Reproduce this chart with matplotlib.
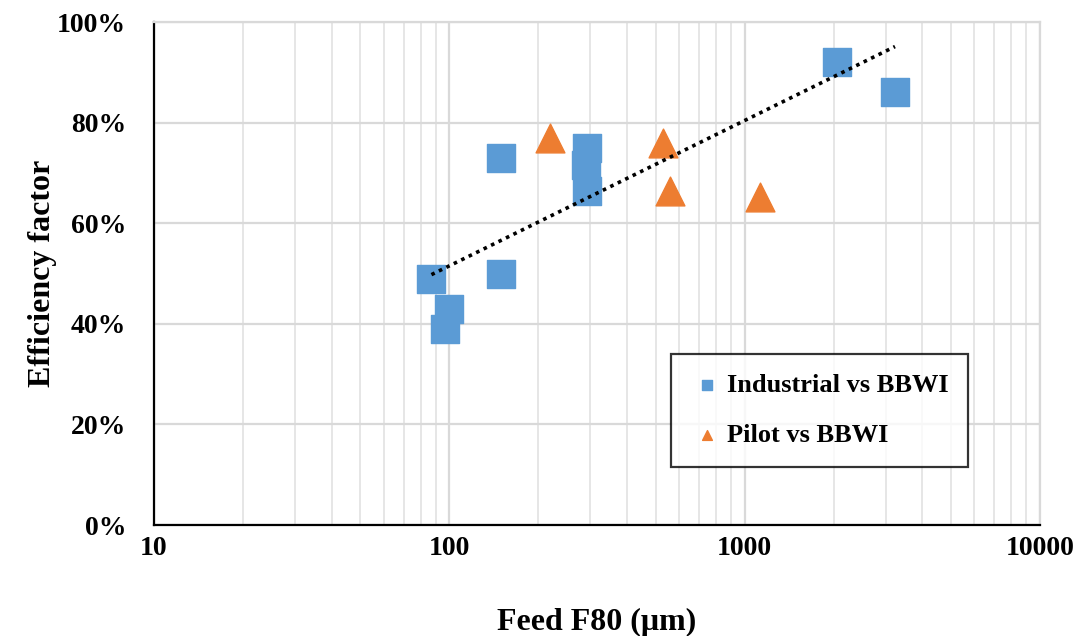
import numpy as np
import matplotlib
matplotlib.use("Agg")
import matplotlib.pyplot as plt
from matplotlib.ticker import FuncFormatter, FixedLocator, LogLocator, NullFormatter

plt.rcParams['font.family'] = ['Liberation Serif', 'DejaVu Serif']
plt.rcParams['font.weight'] = 'bold'

# Industrial vs BBWI
ind_f80 = [87, 100, 97, 150, 150, 292, 290, 292, 2050, 3230]
ind_eff = [0.49, 0.43, 0.39, 0.73, 0.50, 0.75, 0.715, 0.665, 0.92, 0.86]
# Pilot vs BBWI
pil_f80 = [219, 530, 559, 1127]
pil_eff = [0.77, 0.76, 0.665, 0.652]

blue = '#5B9BD5'
orange = '#ED7D31'

fig = plt.figure(figsize=(10.79, 6.36), dpi=100)
ax = fig.add_axes([0.1427, 0.1745, 0.8211, 0.7909])

ax.set_xscale('log')
ax.set_xlim(10, 10000)
ax.set_ylim(0, 1)

ax.grid(True, which='major', color='#d9d9d9', lw=1.6)
ax.grid(True, which='minor', axis='x', color='#e6e6e6', lw=1.4)
ax.set_axisbelow(True)

ax.scatter(ind_f80, ind_eff, marker='s', s=430, color=blue, label='Industrial vs BBWI', zorder=3)
ax.scatter(pil_f80, pil_eff, marker='^', s=430, color=orange, label='Pilot vs BBWI', zorder=3)

# logarithmic trend line fitted on industrial data
lx = np.log10(ind_f80)
k, b = np.polyfit(lx, ind_eff, 1)
xs = np.logspace(lx.min(), lx.max(), 100)
ax.plot(xs, k * np.log10(xs) + b, color='black', ls=(0, (1, 1.3)), lw=2.6, zorder=4)

ax.yaxis.set_major_locator(FixedLocator(np.arange(0, 1.01, 0.2)))
ax.yaxis.set_major_formatter(FuncFormatter(lambda v, p: f'{v*100:.0f}%'))
ax.xaxis.set_major_locator(FixedLocator([10, 100, 1000, 10000]))
ax.xaxis.set_major_formatter(FuncFormatter(lambda v, p: f'{v:.0f}'))
ax.xaxis.set_minor_locator(LogLocator(base=10, subs=np.arange(2, 10)))
ax.xaxis.set_minor_formatter(NullFormatter())
ax.tick_params(axis='both', which='both', length=0, labelsize=20)
ax.tick_params(axis='x', pad=8)
ax.tick_params(axis='y', pad=20)

for s in ['top', 'right']:
    ax.spines[s].set_color('#d9d9d9')
    ax.spines[s].set_linewidth(1.6)
for s in ['left', 'bottom']:
    ax.spines[s].set_color('black')
    ax.spines[s].set_linewidth(1.6)

ax.set_xlabel('Feed F80 (μm)', fontsize=23, fontweight='bold', labelpad=34)
ax.set_ylabel('Efficiency factor', fontsize=23, fontweight='bold', labelpad=0)

leg = ax.legend(loc='upper left', bbox_to_anchor=(0.584, 0.34), fontsize=19,
                frameon=True, fancybox=False, edgecolor='black', markerscale=0.34,
                handletextpad=0.15, labelspacing=1.0, borderpad=0.75, handlelength=1.2,
                borderaxespad=0)
leg.get_frame().set_linewidth(1.6)
for t in leg.get_texts():
    t.set_fontweight('bold')

fig.savefig('out.png', dpi=100)
